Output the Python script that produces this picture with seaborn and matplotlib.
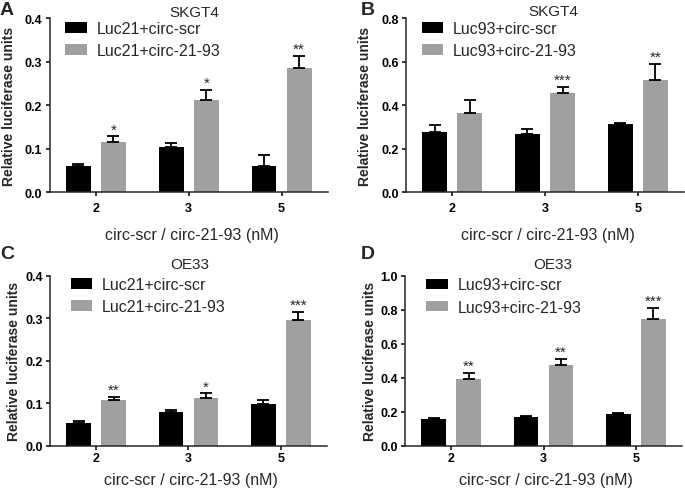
import matplotlib
matplotlib.use('Agg')
import matplotlib.pyplot as plt
from matplotlib.patches import Patch
import seaborn as sns
import pandas as pd

# ---------------- data ----------------
concentrations = ['2', '3', '5']

a_ctrl = [0.061, 0.104, 0.060]
a_ctrl_err = [0.004, 0.009, 0.025]
a_trt = [0.115, 0.212, 0.285]
a_trt_err = [0.013, 0.023, 0.028]
a_stars = ['*', '*', '**']

b_ctrl = [0.278, 0.265, 0.311]
b_ctrl_err = [0.030, 0.024, 0.009]
b_trt = [0.365, 0.458, 0.515]
b_trt_err = [0.058, 0.025, 0.074]
b_stars = ['', '***', '**']

c_ctrl = [0.053, 0.080, 0.097]
c_ctrl_err = [0.006, 0.004, 0.010]
c_trt = [0.108, 0.1125, 0.296]
c_trt_err = [0.007, 0.0105, 0.018]
c_stars = ['**', '*', '***']

d_ctrl = [0.156, 0.172, 0.186]
d_ctrl_err = [0.010, 0.004, 0.005]
d_trt = [0.393, 0.475, 0.748]
d_trt_err = [0.037, 0.037, 0.063]
d_stars = ['**', '**', '***']

labels21 = ['Luc21+circ-scr', 'Luc21+circ-21-93']
labels93 = ['Luc93+circ-scr', 'Luc93+circ-21-93']

yticks_a = [0.0, 0.1, 0.2, 0.3, 0.4]
yticks_b = [0.0, 0.2, 0.4, 0.6, 0.8]
yticks_c = [0.0, 0.1, 0.2, 0.3, 0.4]
yticks_d = [0.0, 0.2, 0.4, 0.6, 0.8, 1.0]

x_label = 'circ-scr / circ-21-93 (nM)'
y_label = 'Relative luciferase units'

# ---------------- style ----------------
sns.set_style('ticks')
plt.rcParams['font.family'] = ['Liberation Sans', 'DejaVu Sans']
plt.rcParams['axes.linewidth'] = 1.1

W, H = 685, 489
fig = plt.figure(figsize=(W / 100, H / 100), dpi=100)

colors = ['#000000', '#a0a0a0']


def px_rect(l, t, r, b):
    return [l / W, 1 - b / H, (r - l) / W, (b - t) / H]


def panel(rect, ctrl, ctrl_err, trt, trt_err, stars, labels, yticks, title,
          title_xy, letter, letter_xy, leg_xy, xlab_y, ylab_x, xpad):
    l, t, r, b = rect
    ax = fig.add_axes(px_rect(l, t, r, b))
    df = pd.DataFrame({
        'conc': concentrations * 2,
        'value': list(ctrl) + list(trt),
        'group': [labels[0]] * 3 + [labels[1]] * 3,
    })
    sns.barplot(data=df, x='conc', y='value', hue='group', order=concentrations,
                hue_order=labels, palette=colors, saturation=1, errorbar=None,
                width=0.756, gap=0.29, linewidth=0, ax=ax, legend=False)
    errs = [ctrl_err, trt_err]
    vals = [ctrl, trt]
    bar_containers = list(ax.containers)
    for i, cont in enumerate(bar_containers):
        xs = [p.get_x() + p.get_width() / 2 for p in cont.patches]
        ax.errorbar(xs, vals[i], yerr=[[0] * 3, errs[i]], fmt='none',
                    ecolor='black', elinewidth=1.3, capsize=4.2, capthick=1.3,
                    zorder=3)
        if i == 1:
            for x, v, e, s in zip(xs, vals[i], errs[i], stars):
                if s:
                    ax.annotate(s, xy=(x, v + e), xytext=(0, 2.2),
                                textcoords='offset points', ha='center',
                                va='baseline', fontsize=11)
    ax.set_xlim(-0.5, 2.5)
    ax.set_ylim(yticks[0], yticks[-1])
    ax.set_yticks(yticks)
    ax.set_yticklabels([f'{v:.1f}' for v in yticks])
    ax.set_xticks(range(3))
    ax.set_xticklabels(concentrations)
    sns.despine(ax=ax)
    ax.tick_params(axis='both', direction='out', length=3, width=1.1,
                   labelsize=9, colors='black')
    ax.tick_params(axis='y', pad=2.2)
    ax.tick_params(axis='x', pad=xpad)
    for lab in ax.get_xticklabels() + ax.get_yticklabels():
        lab.set_fontweight('bold')
    ax.set_xlabel(x_label, fontsize=11.5)
    ax.xaxis.label.set_va('baseline')
    ax.xaxis.set_label_coords(0.51, -(xlab_y - b) / (b - t))
    ax.set_ylabel(y_label, fontsize=10, fontweight='bold')
    ax.yaxis.label.set_va('center')
    ax.yaxis.set_label_coords(-(l - ylab_x) / (r - l), 0.5)
    handles = [Patch(facecolor=c, edgecolor='none') for c in colors]
    ax.legend(handles, labels, loc='upper left',
              bbox_to_anchor=(leg_xy[0] / W, 1 - leg_xy[1] / H),
              bbox_transform=fig.transFigure, frameon=False, borderpad=0,
              borderaxespad=0, handlelength=1.375, handleheight=0.63,
              handletextpad=0.6, labelspacing=0.45, fontsize=11.5)
    fig.text(title_xy[0] / W, 1 - title_xy[1] / H, title, ha='center',
             va='baseline', fontsize=11)
    fig.text(letter_xy[0] / W, 1 - letter_xy[1] / H, letter, ha='left',
             va='baseline', fontsize=14, fontweight='bold')
    return ax


panel((49.5, 19.3, 328, 193), a_ctrl, a_ctrl_err, a_trt, a_trt_err, a_stars,
      labels21, yticks_a, 'SKGT4', (194, 16.7), 'A', (0, 15), (65, 22),
      240, 9, 4.0)
panel((406, 19.3, 684, 193), b_ctrl, b_ctrl_err, b_trt, b_trt_err, b_stars,
      labels93, yticks_b, 'SKGT4', (553, 16.5), 'B', (360.5, 15), (421.5, 22),
      240, 365, 4.0)
panel((50, 276.7, 327, 446.7), c_ctrl, c_ctrl_err, c_trt, c_trt_err, c_stars,
      labels21, yticks_c, 'OE33', (189.5, 269), 'C', (0, 259), (70.5, 278),
      485, 14.5, 1.8)
panel((405, 277, 682, 446.7), d_ctrl, d_ctrl_err, d_trt, d_trt_err, d_stars,
      labels93, yticks_d, 'OE33', (553, 269), 'D', (360.5, 259), (426, 278.5),
      485, 370, 1.8)

fig.savefig('out.png', dpi=100)
